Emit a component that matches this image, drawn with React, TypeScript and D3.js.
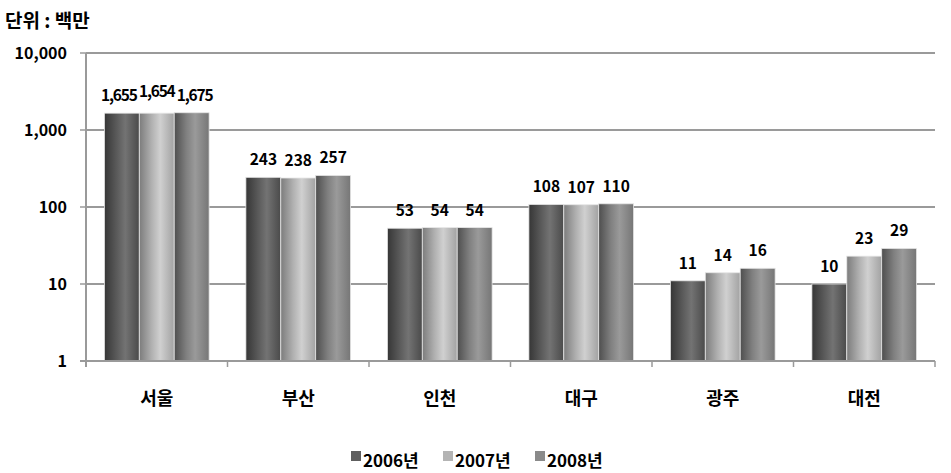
import React from "react";
import * as d3 from "d3";

const categories = ["서울", "부산", "인천", "대구", "광주", "대전"];
const seriesNames = ["2006년", "2007년", "2008년"];
const values2006 = [1655, 243, 53, 108, 11, 10];
const values2007 = [1654, 238, 54, 107, 14, 23];
const values2008 = [1675, 257, 54, 110, 16, 29];
const yTicks = [1, 10, 100, 1000, 10000];
const unitLabel = "단위 : 백만";

const W = 951;
const H = 473;
const margin = { left: 86, right: 16, top: 53, bottom: 112 };
const FONT = "'Noto Sans CJK KR', 'Noto Sans', sans-serif";

const gradients = [
  { id: "g2006", stops: ["#363636", "#5a5a5a", "#737373", "#4a4a4a"] },
  { id: "g2007", stops: ["#7c7c7c", "#b0b0b0", "#d0d0d0", "#a2a2a2"] },
  { id: "g2008", stops: ["#4e4e4e", "#808080", "#9a9a9a", "#767676"] },
];
const legendColors = ["#5f5f5f", "#b4b4b4", "#8a8a8a"];

export default function App() {
  const series = [values2006, values2007, values2008];
  const x0 = d3
    .scaleBand<string>()
    .domain(categories)
    .range([margin.left, W - margin.right])
    .paddingInner(0.26)
    .paddingOuter(0.13);
  const x1 = d3
    .scaleBand<number>()
    .domain([0, 1, 2])
    .range([0, x0.bandwidth()])
    .padding(0);
  const y = d3
    .scaleLog()
    .domain([1, 10000])
    .range([H - margin.bottom, margin.top]);
  const fmt = d3.format(",");
  const xR = W - margin.right;
  const yB = H - margin.bottom;
  const boundaries = categories.map((_, i) => margin.left + ((xR - margin.left) / categories.length) * (i + 1));

  return (
    <svg width={W} height={H} style={{ position: "absolute", left: 0, top: 0, background: "#fff" }}>
      <defs>
        {gradients.map((g) => (
          <linearGradient key={g.id} id={g.id} x1="0" x2="1" y1="0" y2="0">
            <stop offset="0%" stopColor={g.stops[0]} />
            <stop offset="35%" stopColor={g.stops[1]} />
            <stop offset="60%" stopColor={g.stops[2]} />
            <stop offset="100%" stopColor={g.stops[3]} />
          </linearGradient>
        ))}
      </defs>
      <text x={5} y={28} fontFamily={FONT} fontWeight="bold" fontSize={19} fill="#000">
        {unitLabel}
      </text>
      {yTicks.map((t) => (
        <g key={t}>
          {t !== 1 && (
            <line x1={margin.left} x2={xR} y1={y(t)} y2={y(t)} stroke="#9a9a9a" strokeWidth={2} />
          )}
          <line x1={margin.left - 6} x2={margin.left} y1={y(t)} y2={y(t)} stroke="#9a9a9a" strokeWidth={1.5} />
          <text
            x={67}
            y={y(t) + 6}
            textAnchor="end"
            fontFamily={FONT}
            fontWeight="bold"
            fontSize={16}
            fill="#000"
          >
            {fmt(t)}
          </text>
        </g>
      ))}
      <line x1={margin.left} x2={margin.left} y1={margin.top} y2={yB + 6} stroke="#9a9a9a" strokeWidth={2} />
      {categories.map((c, ci) => (
        <g key={c}>
          {series.map((vals, si) => {
            const bx = (x0(c) as number) + (x1(si) as number);
            const by = y(vals[ci]);
            const label = fmt(vals[ci]);
            const wide = label.length > 3;
            return (
              <g key={si}>
                <rect
                  x={bx}
                  y={by}
                  width={x1.bandwidth()}
                  height={yB - by}
                  fill={`url(#${gradients[si].id})`}
                  stroke="#e6e6e6"
                  strokeWidth={0.8}
                />
                <text
                  x={bx + x1.bandwidth() / 2 + (wide ? (si - 1) * 3 : 0)}
                  y={by - 12 - (wide && si === 1 ? 4 : 0)}
                  textAnchor="middle"
                  fontFamily={FONT}
                  fontWeight="bold"
                  fontSize={15.5}
                  letterSpacing={wide ? -1.2 : 0}
                  fill="#000"
                >
                  {label}
                </text>
              </g>
            );
          })}
          <text
            x={(x0(c) as number) + x0.bandwidth() / 2}
            y={405}
            textAnchor="middle"
            fontFamily={FONT}
            fontWeight="bold"
            fontSize={18}
            fill="#000"
          >
            {c}
          </text>
        </g>
      ))}
      <line x1={margin.left - 6} x2={xR} y1={yB} y2={yB} stroke="#9a9a9a" strokeWidth={2} />
      {boundaries.map((bx, i) => (
        <line key={i} x1={bx} x2={bx} y1={yB} y2={yB + 6} stroke="#9a9a9a" strokeWidth={1.5} />
      ))}
      {seriesNames.map((s, i) => {
        const lx = 351 + i * 92;
        return (
          <g key={s}>
            <rect x={lx} y={451} width={10} height={10} fill={legendColors[i]} />
            <text x={lx + 12} y={467} fontFamily={FONT} fontWeight="bold" fontSize={17} fill="#000">
              {s}
            </text>
          </g>
        );
      })}
    </svg>
  );
}
